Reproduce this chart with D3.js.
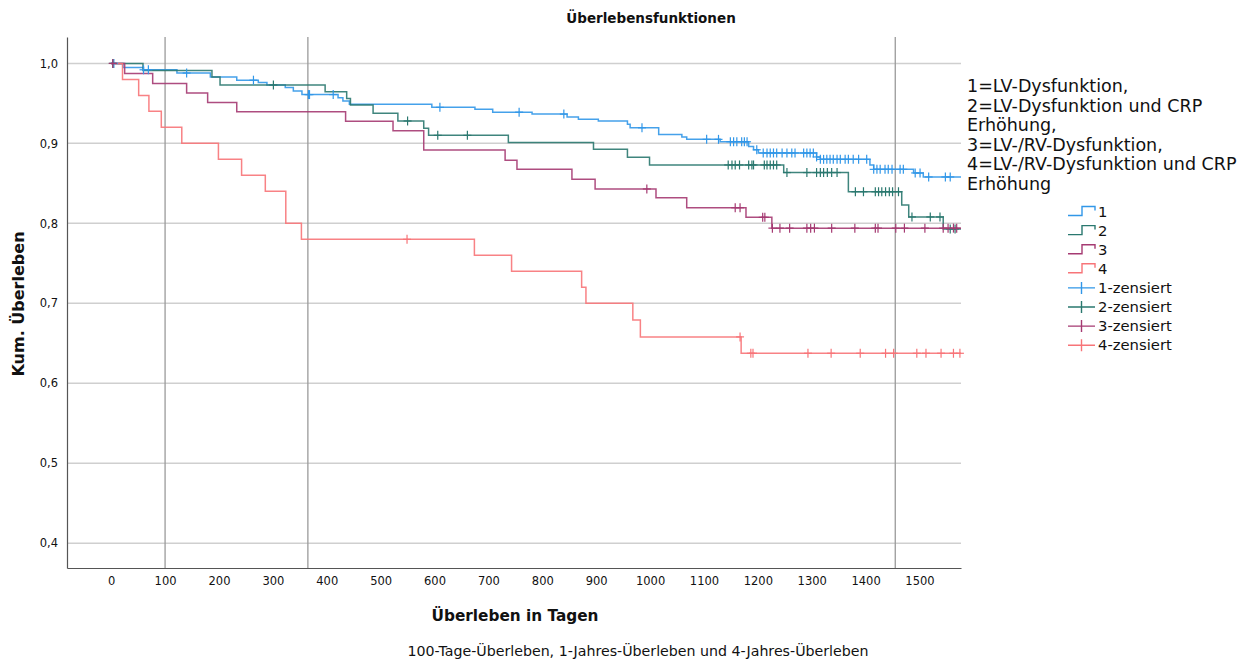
<!DOCTYPE html>
<html>
<head>
<meta charset="utf-8">
<script src="https://cdn.jsdelivr.net/npm/d3@7"></script>
<style>
  body { margin: 0; background: #fff; }
  svg text { font-family: "DejaVu Sans", sans-serif; fill: #111; }
</style>
</head>
<body>
<svg id="svg"></svg>
<script>
// Kaplan-Meier data: step times (days) and survival after each step
const times1 = [0, 22, 60, 122, 184, 233, 273, 289, 323, 338, 354, 421, 430, 442, 595, 675, 708, 781, 846, 867, 904, 958, 963, 1016, 1059, 1068, 1130, 1183, 1192, 1201, 1309, 1316, 1408, 1415, 1489, 1507, 1577];
const surv1 = [1.0, 0.995, 0.992, 0.988, 0.983, 0.979, 0.976, 0.973, 0.970, 0.9655, 0.961, 0.957, 0.953, 0.949, 0.945, 0.9425, 0.939, 0.9366, 0.933, 0.930, 0.928, 0.924, 0.9195, 0.911, 0.908, 0.905, 0.902, 0.896, 0.892, 0.888, 0.883, 0.880, 0.873, 0.8675, 0.863, 0.858, 0.858];
const cens1 = [5, 60, 69, 140, 264, 366, 368, 412, 610, 757, 840, 985, 1105, 1127, 1149, 1155, 1161, 1170, 1175, 1180, 1198, 1210, 1217, 1223, 1229, 1235, 1245, 1254, 1263, 1269, 1285, 1291, 1297, 1303, 1309, 1316, 1322, 1328, 1334, 1340, 1347, 1353, 1362, 1368, 1377, 1387, 1402, 1415, 1421, 1427, 1436, 1442, 1449, 1464, 1470, 1492, 1501, 1517, 1548, 1557];

const times2 = [0, 59, 187, 202, 397, 437, 444, 486, 532, 580, 589, 737, 895, 958, 999, 1248, 1368, 1467, 1480, 1544, 1577];
const surv2 = [1.0, 0.991, 0.983, 0.973, 0.9645, 0.956, 0.948, 0.9375, 0.928, 0.919, 0.910, 0.901, 0.8925, 0.8825, 0.873, 0.8635, 0.8395, 0.823, 0.808, 0.793, 0.793];
const cens2 = [3, 301, 550, 606, 661, 1145, 1152, 1158, 1166, 1183, 1189, 1192, 1212, 1217, 1223, 1229, 1235, 1254, 1291, 1309, 1316, 1322, 1329, 1337, 1347, 1381, 1396, 1418, 1424, 1430, 1437, 1444, 1450, 1461, 1486, 1520, 1538, 1557, 1566];

const times3 = [0, 25, 77, 140, 179, 233, 435, 523, 580, 731, 753, 855, 898, 1011, 1068, 1178, 1226, 1577];
const surv3 = [1.0, 0.9875, 0.975, 0.963, 0.951, 0.9395, 0.9275, 0.9158, 0.8916, 0.879, 0.8675, 0.855, 0.843, 0.832, 0.8195, 0.8075, 0.794, 0.794];
const cens3 = [3, 994, 1158, 1167, 1209, 1213, 1227, 1241, 1259, 1291, 1298, 1305, 1337, 1380, 1418, 1423, 1456, 1472, 1510, 1544, 1553, 1563, 1569];

const times4 = [0, 21, 51, 70, 93, 131, 199, 242, 286, 324, 353, 674, 743, 873, 881, 968, 982, 1169, 1577];
const surv4 = [1.0, 0.98, 0.96, 0.94, 0.92, 0.90, 0.88, 0.86, 0.84, 0.80, 0.78, 0.76, 0.74, 0.72, 0.70, 0.679, 0.658, 0.6375, 0.6375];
const cens4 = [549, 1167, 1187, 1191, 1293, 1336, 1390, 1437, 1452, 1495, 1512, 1540, 1563, 1575];

const groupNames = ["1", "2", "3", "4"];
const groupColors = ["#3197e8", "#2a786f", "#a53a72", "#f77478"];
const xTicks = [0, 100, 200, 300, 400, 500, 600, 700, 800, 900, 1000, 1100, 1200, 1300, 1400, 1500];
const yTicks = [0.4, 0.5, 0.6, 0.7, 0.8, 0.9, 1.0];
const refDays = [100, 365, 1455];   // 100 days, 1 year, 4 years
const legendTitle = ["1=LV-Dysfunktion,", "2=LV-Dysfunktion und CRP", "Erhöhung,", "3=LV-/RV-Dysfunktion,", "4=LV-/RV-Dysfunktion und CRP", "Erhöhung"];

const width = 1250;
const height = 661;

let svg = d3.select("#svg").attr("width", width).attr("height", height);

const xScale = d3.scaleLinear().domain([-82, 1577]).range([67, 961]);
const yScale = d3.scaleLinear().domain([0.369, 1.033]).range([568, 37]);

const groups = [
    { name: groupNames[0], color: groupColors[0], t: times1, s: surv1, c: cens1 },
    { name: groupNames[1], color: groupColors[1], t: times2, s: surv2, c: cens2 },
    { name: groupNames[2], color: groupColors[2], t: times3, s: surv3, c: cens3 },
    { name: groupNames[3], color: groupColors[3], t: times4, s: surv4, c: cens4 }
];

// survival value at a given day (step function)
function survivalAt(g, day) {
    let v = g.s[0];
    for (let i = 0; i < g.t.length; i++) {
        if (g.t[i] <= day) v = g.s[i];
    }
    return v;
}

// horizontal grid lines
svg.append("g")
    .selectAll("line")
    .data(yTicks)
    .join("line")
    .attr("x1", xScale.range()[0])
    .attr("x2", xScale.range()[1])
    .attr("y1", d => yScale(d))
    .attr("y2", d => yScale(d))
    .attr("stroke", "#cfcfcf")
    .attr("stroke-width", 1.5);

// vertical reference lines
svg.append("g")
    .selectAll("line")
    .data(refDays)
    .join("line")
    .attr("x1", d => xScale(d))
    .attr("x2", d => xScale(d))
    .attr("y1", yScale.range()[1])
    .attr("y2", yScale.range()[0])
    .attr("stroke", "#9a9a9a")
    .attr("stroke-width", 1.3);

// axes
const xAxis = svg.append("g")
    .attr("transform", `translate(0,${yScale.range()[0]})`)
    .call(d3.axisBottom(xScale).tickValues(xTicks).tickSize(0).tickPadding(9).tickFormat(d3.format("d")));
xAxis.select(".domain").attr("stroke", "#555").attr("stroke-width", 1.2);
xAxis.selectAll("text").style("font-size", "11.5px").style("font-family", "DejaVu Sans").attr("fill", "#222");

const yAxis = svg.append("g")
    .attr("transform", `translate(${xScale.range()[0]},0)`)
    .call(d3.axisLeft(yScale).tickValues(yTicks).tickSize(0).tickPadding(9).tickFormat(d => d3.format(".1f")(d).replace(".", ",")));
yAxis.select(".domain").attr("stroke", "#555").attr("stroke-width", 1.2);
yAxis.selectAll("text").style("font-size", "11.5px").style("font-family", "DejaVu Sans").attr("fill", "#222");

// survival curves
const line = d3.line()
    .x(d => xScale(d[0]))
    .y(d => yScale(d[1]))
    .curve(d3.curveStepAfter);

const curves = svg.append("g");
groups.forEach(g => {
    const pts = g.t.map((t, i) => [t, g.s[i]]);
    curves.append("path")
        .datum(pts)
        .attr("d", line)
        .attr("fill", "none")
        .attr("stroke", g.color)
        .attr("stroke-opacity", 0.9)
        .attr("stroke-width", 1.5);
});

// censor marks
groups.forEach(g => {
    const marks = curves.append("g").selectAll("g")
        .data(g.c)
        .join("g")
        .attr("transform", d => `translate(${xScale(d)},${yScale(survivalAt(g, d))})`);
    marks.append("line").attr("x1", 0).attr("x2", 0).attr("y1", -4.5).attr("y2", 4.5)
        .attr("stroke", g.color).attr("stroke-width", 1.2);
    marks.append("line").attr("x1", -4).attr("x2", 4).attr("y1", 0).attr("y2", 0)
        .attr("stroke", g.color).attr("stroke-width", 1.2);
});

// titles
svg.append("text")
    .attr("x", 651).attr("y", 23)
    .attr("text-anchor", "middle")
    .style("font-size", "13.5px").style("font-weight", "bold")
    .text("Überlebensfunktionen");

svg.append("text")
    .attr("x", 515).attr("y", 621)
    .attr("text-anchor", "middle")
    .style("font-size", "15.3px").style("font-weight", "bold")
    .text("Überleben in Tagen");

svg.append("text")
    .attr("transform", "translate(24,304) rotate(-90)")
    .attr("text-anchor", "middle")
    .style("font-size", "16px").style("font-weight", "bold")
    .text("Kum. Überleben");

svg.append("text")
    .attr("x", 638).attr("y", 656)
    .attr("text-anchor", "middle")
    .style("font-size", "14.2px")
    .text("100-Tage-Überleben, 1-Jahres-Überleben und 4-Jahres-Überleben");

// legend
const legend = svg.append("g");
legend.selectAll("text.ltitle")
    .data(legendTitle)
    .join("text")
    .attr("class", "ltitle")
    .attr("x", 967)
    .attr("y", (d, i) => 92 + i * 19.5)
    .style("font-size", "17.5px")
    .text(d => d);

const legendItems = groups.map(g => ({ label: g.name, color: g.color, kind: "step" }))
    .concat(groups.map(g => ({ label: g.name + "-zensiert", color: g.color, kind: "cens" })));

const li = legend.selectAll("g.item")
    .data(legendItems)
    .join("g")
    .attr("class", "item")
    .attr("transform", (d, i) => `translate(1068,${211.5 + i * 19.1})`);

li.filter(d => d.kind === "step").append("path")
    .attr("d", "M0,4 H14 V-5 H27 V-1")
    .attr("fill", "none")
    .attr("stroke", d => d.color)
    .attr("stroke-width", 1.4);

li.filter(d => d.kind === "cens").append("path")
    .attr("d", "M0,0 H27 M13.5,-6 V6")
    .attr("fill", "none")
    .attr("stroke", d => d.color)
    .attr("stroke-width", 1.4);

li.append("text")
    .attr("x", 30)
    .attr("y", 5)
    .style("font-size", "14.8px")
    .text(d => d.label);
</script>
</body>
</html>
